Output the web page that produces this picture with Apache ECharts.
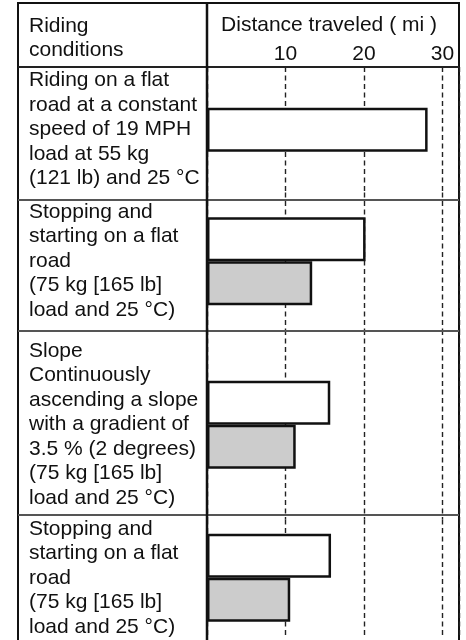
<!DOCTYPE html>
<html>
<head>
<meta charset="utf-8">
<script src="https://cdn.jsdelivr.net/npm/echarts@6/dist/echarts.min.js"></script>
<style>
  html, body { margin: 0; padding: 0; background: #fff; }
  #chart { width: 466px; height: 640px; }
</style>
</head>
<body>
<div id="chart"></div>
<script>
// data
const conditions = [
  'Riding on a flat\nroad at a constant\nspeed of 19 MPH\nload at 55 kg\n(121 lb) and 25 °C',
  'Stopping and\nstarting on a flat\nroad\n(75 kg [165 lb]\nload and 25 °C)',
  'Slope\nContinuously\nascending a slope\nwith a gradient of\n3.5 % (2 degrees)\n(75 kg [165 lb]\nload and 25 °C)',
  'Stopping and\nstarting on a flat\nroad\n(75 kg [165 lb]\nload and 25 °C)'
]
const whiteDistance = [28.1, 20.2, 15.7, 15.8]
const grayDistance = [null, 13.4, 11.3, 10.6]
const xTicks = [10, 20, 30]

// layout
const FONT = "'Liberation Sans', Arial, sans-serif"
const tableLeft = 18
const tableRight = 459
const tableTop = 3
const dividerX = 207
// table row rules (header bottom, then each row bottom)
const ruleYs = [67, 200, 331, 515, 646]
// bar bands, a little off the table rows
const bandYs = [67, 192.4, 330, 519.4, 639.6]

const textStyle = { fontFamily: FONT, fontSize: 21, color: '#111', lineHeight: 24.5 }

const grids = [], xAxes = [], yAxes = [], series = []
conditions.forEach((name, i) => {
  const top = bandYs[i], bottom = bandYs[i + 1]
  // move the label back to the middle of its table row
  const shift = (ruleYs[i] + ruleYs[i + 1]) / 2 - (top + bottom) / 2
  grids.push({ left: dividerX, right: 466 - tableRight, top: top, height: bottom - top })
  xAxes.push({
    type: 'value',
    gridIndex: i,
    position: 'top',
    min: 0,
    max: 32.1,
    interval: 10,
    name: i === 0 ? 'Distance traveled ( mi )' : '',
    nameLocation: 'middle',
    nameGap: 30,
    nameTextStyle: { ...textStyle, padding: [0, 8, 0, 0] },
    axisLine: { show: false },
    axisTick: { show: false },
    axisLabel: {
      show: i === 0,
      margin: 1,
      ...textStyle,
      formatter: v => (xTicks.includes(v) ? String(v) : '')
    },
    splitLine: { show: true, lineStyle: { color: '#222', width: 1.4, type: [5, 3.5] } }
  })
  yAxes.push({
    type: 'category',
    gridIndex: i,
    inverse: true,
    data: [name],
    axisLine: { show: false },
    axisTick: { show: false },
    axisLabel: {
      ...textStyle,
      align: 'left',
      margin: dividerX - 29,
      verticalAlign: 'middle',
      padding: shift > 0 ? [2 * shift, 0, 0, 0] : [0, 0, -2 * shift, 0]
    },
    splitLine: { show: false }
  })
  series.push({
    type: 'bar', xAxisIndex: i, yAxisIndex: i,
    data: [whiteDistance[i]],
    barWidth: 44, barGap: '0%',
    itemStyle: { color: '#fff', borderColor: '#111', borderWidth: 2.5 },
    silent: true
  })
  if (grayDistance[i] != null) {
    series.push({
      type: 'bar', xAxisIndex: i, yAxisIndex: i,
      data: [grayDistance[i]],
      barWidth: 44, barGap: '0%',
      itemStyle: { color: '#cccccc', borderColor: '#111', borderWidth: 2.5 },
      silent: true
    })
  }
})

// table rules
const rules = [{
  type: 'rect',
  shape: { x: tableLeft, y: tableTop, width: tableRight - tableLeft, height: 700 },
  style: { fill: null, stroke: '#111', lineWidth: 2 }
}, {
  type: 'line',
  shape: { x1: dividerX, y1: tableTop, x2: dividerX, y2: 700 },
  style: { stroke: '#111', lineWidth: 2.5 },
  z: 20
}]
ruleYs.forEach((y, i) => {
  rules.push({
    type: 'line',
    shape: { x1: tableLeft, y1: y, x2: tableRight, y2: y },
    style: { stroke: i === 0 ? '#222' : '#555', lineWidth: 2 },
    z: 10
  })
})

const chart = echarts.init(document.getElementById('chart'))
chart.setOption({
  animation: false,
  title: {
    text: 'Riding\nconditions',
    left: 29,
    top: 13.5,
    padding: 0,
    textStyle: { ...textStyle, fontWeight: 'normal' }
  },
  grid: grids,
  xAxis: xAxes,
  yAxis: yAxes,
  series: series,
  graphic: rules
})
</script>
</body>
</html>
